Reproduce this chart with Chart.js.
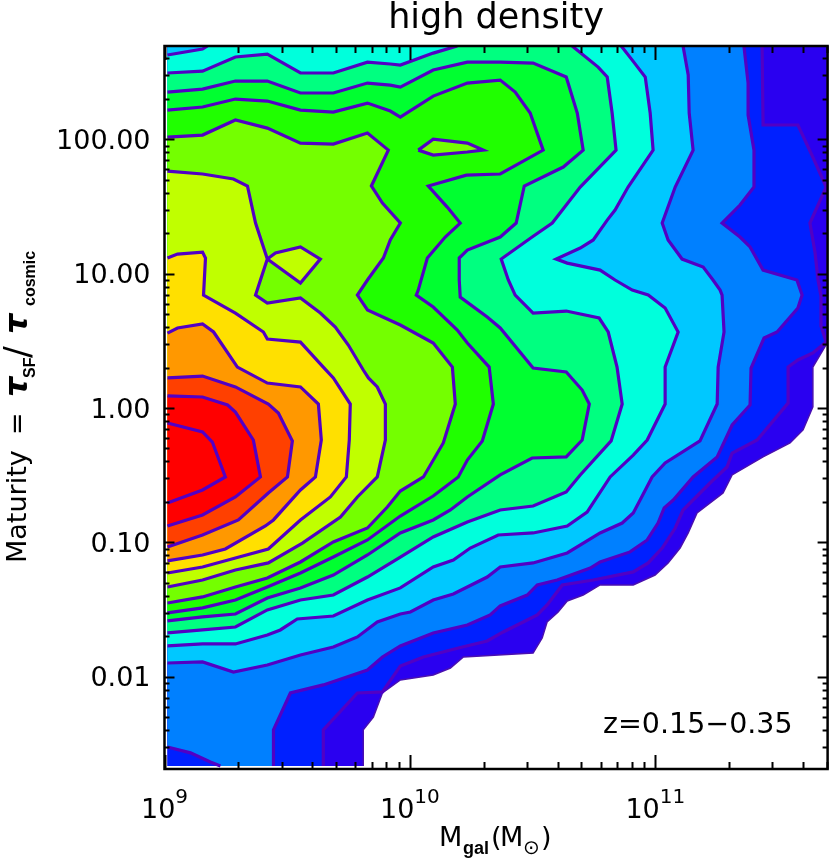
<!DOCTYPE html>
<html>
<head>
<meta charset="utf-8">
<title>high density</title>
<script src="https://cdn.jsdelivr.net/npm/chart.js@4"></script>
<style>
body { margin: 0; background: #fff; }
canvas { display: block; }
</style>
</head>
<body>
<canvas id="contourChart" width="830" height="865"></canvas>
<script>
// contour lines, log10(Mgal) and log10(maturity)
const c1m = [11.700,11.700,11.642,11.642,11.602,11.549,11.439,11.313,11.276,11.170,11.134,11.101,11.052,10.999,10.910,10.775,10.706,10.641,10.604,10.559,10.539,10.502,10.218,10.165,10.095,9.961,9.888,9.851,9.810,9.810];
const c1t = [2.695,0.484,0.305,0.008,-0.163,-0.260,-0.364,-0.498,-0.632,-0.781,-0.930,-1.042,-1.153,-1.243,-1.317,-1.317,-1.392,-1.436,-1.518,-1.593,-1.712,-1.823,-1.853,-1.935,-1.987,-2.024,-2.121,-2.300,-2.396,-2.664];
const c2m = [9.647,9.647,9.786,9.888,9.961,10.055,10.214,10.315,10.380,10.478,10.519,10.559,10.621,10.747,10.910,10.971,11.028,11.081,11.113,11.223,11.292,11.313,11.415,11.541,11.541,11.581,11.642,11.696,11.675,11.675,11.663,11.651,11.630,11.696,11.638,11.581,11.439,11.435];
const c2t = [-2.664,-2.396,-2.121,-2.113,-1.920,-1.853,-1.779,-1.734,-1.667,-1.578,-1.540,-1.466,-1.317,-1.280,-1.220,-1.153,-1.042,-0.893,-0.759,-0.558,-0.439,-0.335,-0.238,0.037,0.305,0.358,0.410,0.491,0.611,0.834,0.953,1.154,1.377,1.645,1.883,2.107,2.107,2.695];
const c3m = [9.444,9.444,9.513,9.647,9.827,9.888,9.961,10.095,10.234,10.327,10.368,10.478,10.519,10.600,10.735,10.775,10.897,10.967,11.011,11.036,11.073,11.154,11.252,11.313,11.386,11.390,11.443,11.496,11.581,11.598,11.577,11.439,11.386,11.345,11.272,11.345,11.402,11.402,11.378,11.378,11.361];
const c3t = [-2.664,-2.396,-2.121,-2.061,-1.950,-1.853,-1.771,-1.674,-1.615,-1.540,-1.473,-1.392,-1.317,-1.280,-1.191,-1.146,-1.071,-0.982,-0.856,-0.744,-0.685,-0.513,-0.364,-0.126,0.023,0.298,0.521,0.566,0.745,0.841,0.953,1.027,1.199,1.273,1.377,1.511,1.645,1.920,2.181,2.419,2.695];
const cornerM = [9.012,9.106,9.187,9.228];
const cornerT = [-2.523,-2.567,-2.635,-2.664];
const c4m = [9.012,9.155,9.281,9.419,9.554,9.688,9.786,9.867,9.961,10.002,10.095,10.177,10.315,10.368,10.502,10.641,10.775,10.865,10.910,10.938,10.987,11.040,11.182,11.252,11.256,11.280,11.272,11.264,11.235,11.195,11.109,11.052,11.028,11.081,11.154,11.138,11.134,11.113];
const c4t = [-1.898,-1.890,-1.965,-1.913,-1.838,-1.779,-1.704,-1.593,-1.533,-1.518,-1.429,-1.384,-1.258,-1.183,-1.153,-1.079,-0.930,-0.856,-0.781,-0.685,-0.513,-0.409,-0.245,0.030,0.305,0.566,0.841,0.878,0.953,1.050,1.109,1.251,1.377,1.645,1.920,2.196,2.479,2.695];
const c5m = [9.012,9.155,9.289,9.419,9.472,9.541,9.688,9.827,9.961,10.095,10.177,10.246,10.360,10.502,10.641,10.722,10.816,10.910,10.967,11.040,11.040,11.093,11.040,10.971,10.906,10.836,10.775,10.641,10.596,10.694,10.747,10.804,10.836,10.889,10.991,10.979,10.959,10.906,10.861];
const c5t = [-1.771,-1.756,-1.756,-1.689,-1.652,-1.570,-1.548,-1.429,-1.339,-1.183,-1.131,-1.042,-0.945,-0.930,-0.878,-0.774,-0.513,-0.350,-0.238,0.030,0.305,0.566,0.745,0.841,0.878,0.953,1.027,1.079,1.109,1.191,1.251,1.399,1.474,1.645,1.920,2.196,2.464,2.590,2.695];
const topLeftM = [9.175,9.155,9.012];
const topLeftT = [2.695,2.672,2.628];
const c6m = [9.012,9.155,9.289,9.419,9.554,9.688,9.827,9.961,10.095,10.234,10.368,10.502,10.637,10.694,10.820,10.865,10.844,10.808,10.771,10.637,10.502,10.429,10.401,10.372,10.498,10.580,10.694,10.840,10.824,10.804,10.767,10.661];
const c6t = [-1.674,-1.652,-1.630,-1.503,-1.429,-1.392,-1.258,-1.109,-0.960,-0.848,-0.759,-0.729,-0.625,-0.498,-0.245,0.030,0.305,0.566,0.670,0.722,0.707,0.841,0.953,1.109,1.273,1.377,1.645,1.920,2.196,2.464,2.538,2.695];
const c6TopM = [10.193,10.095,9.961,9.920,9.827,9.688,9.554,9.419,9.289,9.155,9.012];
const c6TopT = [2.695,2.642,2.553,2.561,2.575,2.494,2.494,2.635,2.613,2.508,2.494];
const c7m = [9.012,9.155,9.289,9.419,9.554,9.688,9.827,9.961,10.095,10.165,10.234,10.368,10.498,10.637,10.702,10.731,10.702,10.637,10.502,10.368,10.315,10.205,10.201,10.201,10.234,10.368,10.433,10.466,10.625,10.706,10.682,10.637,10.502,10.368,10.234,10.095,9.961,9.920,9.827,9.688,9.554,9.419,9.289,9.155,9.012];
const c7t = [-1.585,-1.555,-1.533,-1.414,-1.339,-1.243,-1.094,-0.930,-0.833,-0.759,-0.662,-0.498,-0.372,-0.364,-0.238,0.030,0.134,0.268,0.298,0.596,0.678,0.826,0.953,1.117,1.176,1.273,1.377,1.653,1.794,1.920,2.196,2.464,2.568,2.575,2.575,2.516,2.389,2.404,2.419,2.345,2.345,2.434,2.434,2.374,2.352];
const c8m = [9.012,9.155,9.289,9.419,9.554,9.688,9.827,9.961,10.095,10.197,10.234,10.295,10.340,10.323,10.234,10.193,10.095,10.026,10.034,10.071,10.144,10.205,10.152,10.075,10.230,10.368,10.543,10.490,10.429,10.368,10.234,10.095,9.961,9.920,9.827,9.688,9.554,9.419,9.289,9.155,9.012];
const c8t = [-1.525,-1.488,-1.429,-1.332,-1.228,-1.109,-0.982,-0.804,-0.655,-0.513,-0.387,-0.245,0.030,0.305,0.484,0.581,0.752,0.841,0.878,1.117,1.273,1.377,1.496,1.653,1.734,1.742,1.920,2.196,2.352,2.441,2.419,2.322,2.166,2.211,2.270,2.203,2.218,2.285,2.300,2.241,2.218];
const c9m = [9.012,9.155,9.289,9.419,9.554,9.688,9.827,9.908,9.961,10.055,10.136,10.185,10.173,10.095,9.961,9.827,9.786,9.827,9.892,9.920,9.961,9.888,9.843,9.912,9.827,9.688,9.554,9.419,9.289,9.155,9.012];
const c9t = [-1.451,-1.406,-1.332,-1.265,-1.146,-0.997,-0.893,-0.737,-0.618,-0.513,-0.260,0.030,0.305,0.484,0.618,0.730,0.841,0.953,1.117,1.251,1.377,1.526,1.653,1.920,2.047,1.965,1.972,2.084,2.144,2.032,2.017];
const island9m = [10.034,10.095,10.234,10.299,10.234,10.095,10.034];
const island9t = [1.920,2.002,1.972,1.920,1.906,1.883,1.920];
const c10m = [9.012,9.155,9.289,9.423,9.562,9.717,9.786,9.867,9.900,9.900,9.867,9.831,9.810,9.749,9.696,9.635,9.554,9.419,9.371,9.391,9.419,9.371,9.338,9.281,9.155,9.012];
const c10t = [-1.332,-1.280,-1.206,-1.153,-1.005,-0.811,-0.662,-0.513,-0.238,0.030,0.157,0.224,0.283,0.469,0.603,0.707,0.819,0.782,0.841,0.953,1.109,1.377,1.653,1.705,1.742,1.764];
const island10m = [9.419,9.452,9.554,9.635,9.554,9.419];
const island10t = [1.109,1.154,1.199,1.109,0.931,1.109];
const c11m = [9.012,9.155,9.289,9.423,9.554,9.676,9.741,9.753,9.757,9.688,9.647,9.554,9.419,9.403,9.289,9.159,9.167,9.155,9.053,9.012];
const c11t = [-1.228,-1.183,-1.116,-1.049,-0.833,-0.662,-0.513,-0.238,0.030,0.224,0.305,0.491,0.514,0.566,0.707,0.841,1.117,1.161,1.146,1.117];
const c12m = [9.012,9.155,9.248,9.411,9.444,9.554,9.615,9.639,9.627,9.554,9.419,9.297,9.200,9.155,9.053,9.012];
const c12t = [-1.138,-1.094,-1.049,-0.878,-0.833,-0.610,-0.513,-0.238,0.030,0.157,0.186,0.305,0.566,0.626,0.596,0.558];
const c13m = [9.012,9.155,9.301,9.423,9.501,9.521,9.464,9.423,9.289,9.155,9.012];
const c13t = [-1.034,-0.945,-0.833,-0.632,-0.513,-0.245,-0.037,0.030,0.157,0.238,0.224];
const c14m = [9.012,9.155,9.289,9.391,9.362,9.289,9.257,9.155,9.012];
const c14t = [-0.878,-0.796,-0.662,-0.513,-0.238,-0.030,0.023,0.082,0.090];
const c15m = [9.012,9.155,9.248,9.195,9.155,9.012];
const c15t = [-0.707,-0.610,-0.513,-0.253,-0.178,-0.111];

// edges of the gridded data, used to close the filled levels
const edgeLeft = 9.012;
const edgeTop = 2.695;
const edgeBottom = -2.664;

// tick values and labels
const xMajor = [1e9, 1e10, 1e11];
const xMajorExp = ['9', '10', '11'];
const xMinor = [2e9,3e9,4e9,5e9,6e9,7e9,8e9,9e9,2e10,3e10,4e10,5e10,6e10,7e10,8e10,9e10,2e11,3e11,4e11,5e11];
const yMajor = [0.01, 0.1, 1, 10, 100];
const yMajorLabels = ['0.01', '0.10', '1.00', '10.00', '100.00'];
const yMinor = [0.003,0.004,0.005,0.006,0.007,0.008,0.009,0.02,0.03,0.04,0.05,0.06,0.07,0.08,0.09,0.2,0.3,0.4,0.5,0.6,0.7,0.8,0.9,2,3,4,5,6,7,8,9,20,30,40,50,60,70,80,90,200,300,400];

const lineColor = '#5200c4';
const font = '"DejaVu Sans"';

function toPoints(m, t) {
    return m.map((v, i) => ({ x: Math.pow(10, v), y: Math.pow(10, t[i]) }));
}

// filled levels, outermost first
const fills = [
    { color: '#2a00f0', m: [...c1m, edgeLeft, edgeLeft], t: [...c1t, edgeBottom, edgeTop] },
    { color: '#0020ff', m: [...c2m, edgeLeft, edgeLeft], t: [...c2t, edgeTop, edgeBottom] },
    { color: '#0080ff', m: [...c3m, edgeLeft, ...cornerM], t: [...c3t, edgeTop, ...cornerT] },
    { color: '#00c8ff', m: [...c4m, edgeLeft], t: [...c4t, edgeTop] },
    { color: '#00ffdc', m: [...c5m, ...topLeftM], t: [...c5t, ...topLeftT] },
    { color: '#00ff80', m: [...c6m, ...c6TopM], t: [...c6t, ...c6TopT] },
    { color: '#00ff30', m: c7m, t: c7t },
    { color: '#20ff00', m: c8m, t: c8t },
    { color: '#74ff00', m: c9m, t: c9t },
    { color: '#74ff00', m: island9m, t: island9t },
    { color: '#c0ff00', m: c10m, t: c10t },
    { color: '#c0ff00', m: island10m, t: island10t },
    { color: '#ffe000', m: c11m, t: c11t },
    { color: '#ff9800', m: c12m, t: c12t },
    { color: '#ff4000', m: c13m, t: c13t },
    { color: '#ff0000', m: c14m, t: c14t }
];

const lines = [
    [c2m, c2t], [c3m, c3t], [cornerM, cornerT], [c4m, c4t], [c5m, c5t], [topLeftM, topLeftT],
    [c6m, c6t], [c6TopM, c6TopT], [c7m, c7t], [c8m, c8t], [c9m, c9t], [island9m, island9t],
    [c10m, c10t], [island10m, island10t], [c11m, c11t], [c12m, c12t], [c13m, c13t], [c14m, c14t], [c15m, c15t]
];

const datasets = [];
fills.forEach((f, i) => {
    datasets.push({
        data: toPoints(f.m, f.t),
        polygon: true,
        backgroundColor: f.color,
        showLine: false,
        pointRadius: 0,
        order: 1000 - i
    });
});
datasets.push({
    data: toPoints(c1m, c1t),
    showLine: true,
    borderColor: '#4a10b0',
    borderWidth: 1.5,
    pointRadius: 0,
    tension: 0,
    order: 100
});
lines.forEach(l => {
    datasets.push({
        data: toPoints(l[0], l[1]),
        showLine: true,
        borderColor: lineColor,
        borderWidth: 3.2,
        pointRadius: 0,
        tension: 0,
        order: 50
    });
});

// the library has no closed polygons, so fill them from the parsed points
const polygonFill = {
    id: 'polygonFill',
    beforeDatasetDraw(chart, args) {
        const ds = chart.data.datasets[args.index];
        if (!ds.polygon) return;
        const ctx = chart.ctx;
        const a = chart.chartArea;
        ctx.save();
        ctx.beginPath();
        ctx.rect(a.left, a.top, a.width, a.height);
        ctx.clip();
        ctx.beginPath();
        args.meta.data.forEach((p, i) => {
            if (i === 0) ctx.moveTo(p.x, p.y);
            else ctx.lineTo(p.x, p.y);
        });
        ctx.closePath();
        ctx.fillStyle = ds.backgroundColor;
        ctx.fill();
        ctx.restore();
    }
};

function runs(ctx, list) {
    list.forEach(r => {
        ctx.font = r.font;
        ctx.fillText(r.text, r.at, r.base);
    });
}

// inward tick marks on all four sides, frame, mixed-font labels
const frameAndText = {
    id: 'frameAndText',
    afterDraw(chart) {
        const ctx = chart.ctx;
        const a = chart.chartArea;
        const sx = chart.scales.x;
        const sy = chart.scales.y;
        ctx.save();
        ctx.strokeStyle = '#000';
        ctx.lineWidth = 2;
        sx.ticks.forEach(t => {
            const px = Math.round(sx.getPixelForValue(t.value)) + 0.5;
            const len = xMajor.includes(t.value) ? 14 : 7;
            ctx.beginPath();
            ctx.moveTo(px, a.bottom); ctx.lineTo(px, a.bottom - len);
            ctx.moveTo(px, a.top); ctx.lineTo(px, a.top + len);
            ctx.stroke();
        });
        sy.ticks.forEach(t => {
            const py = Math.round(sy.getPixelForValue(t.value)) + 0.5;
            const len = yMajor.includes(t.value) ? 10 : 5;
            ctx.beginPath();
            ctx.moveTo(a.left, py); ctx.lineTo(a.left + len, py);
            ctx.moveTo(a.right, py); ctx.lineTo(a.right - len, py);
            ctx.stroke();
        });
        ctx.lineWidth = 2.5;
        ctx.strokeRect(a.left, a.top, a.width, a.height);

        ctx.fillStyle = '#000';
        ctx.textBaseline = 'alphabetic';
        ctx.textAlign = 'left';

        // x tick labels with a raised exponent, centred on the tick
        xMajor.forEach((v, i) => {
            const px = sx.getPixelForValue(v);
            ctx.font = '27px ' + font;
            const w10 = ctx.measureText('10').width;
            ctx.font = '20px ' + font;
            const wExp = ctx.measureText(xMajorExp[i]).width;
            const start = px - (w10 + wExp) / 2;
            ctx.font = '27px ' + font;
            ctx.fillText('10', start, 818);
            ctx.font = '20px ' + font;
            ctx.fillText(xMajorExp[i], start + w10, 803);
        });

        ctx.font = '28.5px ' + font;
        ctx.fillText('z=0.15−0.35', 603, 733);

        runs(ctx, [
            { text: 'M', at: 439, base: 846, font: '27px ' + font },
            { text: 'gal', at: 463, base: 854, font: 'bold 18px "Liberation Sans"' },
            { text: '(', at: 491, base: 846, font: '27px ' + font },
            { text: 'M', at: 500, base: 846, font: '27px ' + font },
            { text: '⊙', at: 523, base: 854, font: '20px ' + font },
            { text: ')', at: 541, base: 846, font: '27px ' + font }
        ]);

        ctx.translate(26, 0);
        ctx.rotate(-Math.PI / 2);
        // rotated: "at" runs up the page as -y
        runs(ctx, [
            { text: 'Maturity', at: -563, base: 0, font: '27px ' + font },
            { text: '=', at: -435, base: 0, font: '27px ' + font },
            { text: 'τ', at: -397, base: 1, font: 'bold italic 32px ' + font },
            { text: 'SF', at: -378, base: 9, font: 'bold 16px "Liberation Sans"' },
            { text: '/', at: -358, base: 3, font: '35px ' + font },
            { text: 'τ', at: -334, base: 1, font: 'bold italic 32px ' + font },
            { text: 'cosmic', at: -306, base: 9, font: 'bold 16px "Liberation Sans"' }
        ]);
        ctx.restore();
    }
};

// keep the plot box fixed, the library would otherwise pad for tick labels
function fixPadding(scale) {
    scale.paddingLeft = 0;
    scale.paddingRight = 0;
    scale.paddingTop = 0;
    scale.paddingBottom = 0;
}

new Chart(document.getElementById('contourChart'), {
    type: 'scatter',
    data: { datasets: datasets },
    plugins: [polygonFill, frameAndText],
    options: {
        responsive: false,
        animation: false,
        events: [],
        layout: { padding: { right: 2.4 } },
        plugins: {
            legend: { display: false },
            tooltip: { enabled: false },
            title: {
                display: true,
                text: 'high density',
                fullSize: false,
                color: '#000',
                font: { family: font, size: 35, weight: 'normal', lineHeight: 1.1 },
                padding: { top: 0, bottom: 7.5 }
            }
        },
        scales: {
            x: {
                type: 'logarithmic',
                min: 1e9,
                max: Math.pow(10, 11.702),
                grid: { drawOnChartArea: false, drawTicks: false },
                border: { display: false },
                afterFit(scale) { scale.height = 96; fixPadding(scale); },
                afterBuildTicks(scale) {
                    scale.ticks = [...xMajor, ...xMinor].map(v => ({ value: v }));
                },
                ticks: { display: false, autoSkip: false, maxRotation: 0 }
            },
            y: {
                type: 'logarithmic',
                min: Math.pow(10, -2.687),
                max: Math.pow(10, 2.695),
                grid: { drawOnChartArea: false, drawTicks: false },
                border: { display: false },
                afterFit(scale) { scale.width = 164.5; fixPadding(scale); },
                afterBuildTicks(scale) {
                    scale.ticks = [...yMajor, ...yMinor].map(v => ({ value: v }));
                },
                ticks: {
                    autoSkip: false,
                    padding: 14,
                    labelOffset: 2.5,
                    color: '#000',
                    font: { family: font, size: 27 },
                    callback(v) {
                        const i = yMajor.indexOf(v);
                        return i < 0 ? '' : yMajorLabels[i];
                    }
                }
            }
        }
    }
});
</script>
</body>
</html>
